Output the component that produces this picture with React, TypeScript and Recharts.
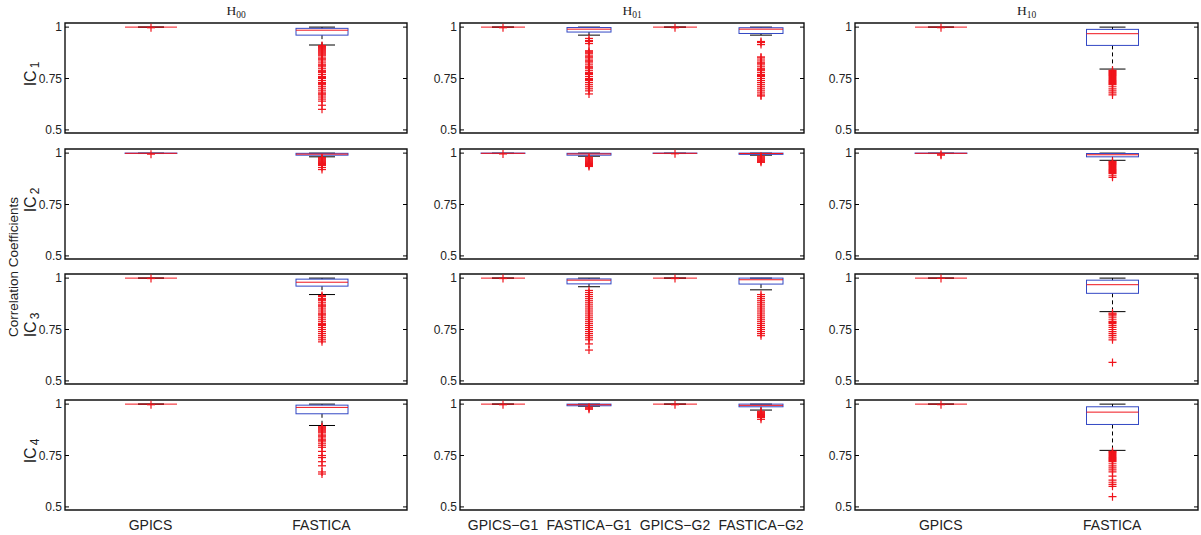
import React from 'react';
import { ComposedChart, Bar, XAxis, YAxis, ReferenceArea } from 'recharts';

type Box = { name: string; lo: number; q1: number; med: number; q3: number; hi: number; out: number[] };

const Y_TICKS = [0.5, 0.75, 1];
const Y_DOMAIN: [number, number] = [0.485, 1.02];
const REF_SPAN = [0.5, 1];

const COL_TITLES = ['00', '01', '10'];
const ROW_LABELS = ['1', '2', '3', '4'];
const Y_TITLE = 'Correlation Coefficients';

// ---------- IC1 ----------
const H00_IC1: Box[] = [
  { name: 'GPICS', lo: 1, q1: 1, med: 1, q3: 1, hi: 1, out: [0.997] },
  { name: 'FASTICA', lo: 0.913, q1: 0.961, med: 0.985, q3: 0.994, hi: 1, out: [0.91, 0.905, 0.9, 0.895, 0.89, 0.885, 0.88, 0.875, 0.87, 0.865, 0.86, 0.85, 0.845, 0.84, 0.83, 0.82, 0.815, 0.81, 0.8, 0.79, 0.785, 0.78, 0.77, 0.76, 0.755, 0.75, 0.74, 0.73, 0.725, 0.72, 0.71, 0.7, 0.69, 0.68, 0.675, 0.67, 0.66, 0.65, 0.64, 0.62, 0.6] },
];
const H01_IC1: Box[] = [
  { name: 'GPICS−G1', lo: 1, q1: 1, med: 1, q3: 1, hi: 1, out: [0.997] },
  { name: 'FASTICA−G1', lo: 0.961, q1: 0.976, med: 0.99, q3: 0.998, hi: 1, out: [0.945, 0.935, 0.93, 0.92, 0.885, 0.88, 0.875, 0.87, 0.86, 0.855, 0.85, 0.84, 0.835, 0.83, 0.82, 0.81, 0.805, 0.8, 0.79, 0.78, 0.775, 0.77, 0.76, 0.75, 0.745, 0.74, 0.73, 0.72, 0.71, 0.7, 0.69, 0.675] },
  { name: 'GPICS−G2', lo: 1, q1: 1, med: 1, q3: 1, hi: 1, out: [0.997] },
  { name: 'FASTICA−G2', lo: 0.961, q1: 0.969, med: 0.99, q3: 0.997, hi: 1, out: [0.93, 0.925, 0.915, 0.855, 0.85, 0.84, 0.83, 0.825, 0.82, 0.81, 0.8, 0.795, 0.79, 0.78, 0.77, 0.765, 0.76, 0.75, 0.74, 0.73, 0.72, 0.71, 0.7, 0.69, 0.68, 0.67, 0.665] },
];
const H10_IC1: Box[] = [
  { name: 'GPICS', lo: 1, q1: 1, med: 1, q3: 1, hi: 1, out: [0.997] },
  { name: 'FASTICA', lo: 0.796, q1: 0.911, med: 0.968, q3: 0.989, hi: 1, out: [0.79, 0.785, 0.78, 0.775, 0.77, 0.765, 0.76, 0.755, 0.75, 0.745, 0.74, 0.735, 0.73, 0.725, 0.72, 0.71, 0.7, 0.69, 0.68, 0.67] },
];

// ---------- IC2 ----------
const H00_IC2: Box[] = [
  { name: 'GPICS', lo: 0.998, q1: 0.999, med: 0.999, q3: 1, hi: 1, out: [0.995] },
  { name: 'FASTICA', lo: 0.982, q1: 0.99, med: 0.995, q3: 0.999, hi: 1, out: [0.978, 0.975, 0.97, 0.965, 0.96, 0.955, 0.95, 0.945, 0.94, 0.93, 0.92] },
];
const H01_IC2: Box[] = [
  { name: 'GPICS−G1', lo: 0.998, q1: 0.999, med: 0.999, q3: 1, hi: 1, out: [0.996] },
  { name: 'FASTICA−G1', lo: 0.985, q1: 0.99, med: 0.996, q3: 0.999, hi: 1, out: [0.98, 0.975, 0.97, 0.965, 0.96, 0.955, 0.95, 0.945, 0.94, 0.935] },
  { name: 'GPICS−G2', lo: 0.998, q1: 0.999, med: 0.999, q3: 1, hi: 1, out: [0.997] },
  { name: 'FASTICA−G2', lo: 0.99, q1: 0.994, med: 0.998, q3: 1, hi: 1, out: [0.985, 0.98, 0.975, 0.97, 0.965, 0.96, 0.955] },
];
const H10_IC2: Box[] = [
  { name: 'GPICS', lo: 0.998, q1: 0.999, med: 0.999, q3: 1, hi: 1, out: [0.995, 0.99] },
  { name: 'FASTICA', lo: 0.965, q1: 0.982, med: 0.992, q3: 0.998, hi: 1, out: [0.96, 0.955, 0.95, 0.945, 0.94, 0.935, 0.93, 0.925, 0.92, 0.915, 0.91, 0.905, 0.9, 0.89, 0.882] },
];

// ---------- IC3 ----------
const H00_IC3: Box[] = [
  { name: 'GPICS', lo: 1, q1: 1, med: 1, q3: 1, hi: 1, out: [0.998] },
  { name: 'FASTICA', lo: 0.92, q1: 0.961, med: 0.98, q3: 0.995, hi: 1, out: [0.915, 0.91, 0.9, 0.895, 0.89, 0.88, 0.87, 0.865, 0.86, 0.85, 0.84, 0.83, 0.825, 0.82, 0.81, 0.8, 0.79, 0.78, 0.775, 0.77, 0.76, 0.75, 0.74, 0.73, 0.72, 0.71, 0.7, 0.69] },
];
const H01_IC3: Box[] = [
  { name: 'GPICS−G1', lo: 1, q1: 1, med: 1, q3: 1, hi: 1, out: [0.998] },
  { name: 'FASTICA−G1', lo: 0.958, q1: 0.972, med: 0.99, q3: 0.996, hi: 1, out: [0.94, 0.93, 0.92, 0.91, 0.9, 0.89, 0.88, 0.87, 0.86, 0.85, 0.84, 0.83, 0.82, 0.81, 0.8, 0.79, 0.78, 0.77, 0.76, 0.75, 0.74, 0.73, 0.72, 0.71, 0.7, 0.68, 0.65] },
  { name: 'GPICS−G2', lo: 1, q1: 1, med: 1, q3: 1, hi: 1, out: [0.998] },
  { name: 'FASTICA−G2', lo: 0.943, q1: 0.971, med: 0.992, q3: 1, hi: 1, out: [0.92, 0.91, 0.9, 0.89, 0.88, 0.87, 0.86, 0.85, 0.84, 0.83, 0.82, 0.81, 0.8, 0.79, 0.78, 0.77, 0.76, 0.75, 0.74, 0.73, 0.72] },
];
const H10_IC3: Box[] = [
  { name: 'GPICS', lo: 1, q1: 1, med: 1, q3: 1, hi: 1, out: [0.998] },
  { name: 'FASTICA', lo: 0.837, q1: 0.926, med: 0.968, q3: 0.99, hi: 1, out: [0.83, 0.825, 0.82, 0.81, 0.8, 0.79, 0.785, 0.78, 0.77, 0.76, 0.75, 0.74, 0.73, 0.72, 0.71, 0.7, 0.59] },
];

// ---------- IC4 ----------
const H00_IC4: Box[] = [
  { name: 'GPICS', lo: 1, q1: 1, med: 1, q3: 1, hi: 1, out: [0.997] },
  { name: 'FASTICA', lo: 0.896, q1: 0.953, med: 0.984, q3: 0.995, hi: 1, out: [0.89, 0.885, 0.88, 0.875, 0.87, 0.865, 0.86, 0.85, 0.845, 0.84, 0.83, 0.825, 0.82, 0.81, 0.8, 0.79, 0.77, 0.75, 0.74, 0.72, 0.7, 0.67, 0.66] },
];
const H01_IC4: Box[] = [
  { name: 'GPICS−G1', lo: 1, q1: 1, med: 1, q3: 1, hi: 1, out: [0.997] },
  { name: 'FASTICA−G1', lo: 0.99, q1: 0.992, med: 0.997, q3: 1, hi: 1, out: [0.985, 0.98, 0.975] },
  { name: 'GPICS−G2', lo: 1, q1: 1, med: 1, q3: 1, hi: 1, out: [0.997] },
  { name: 'FASTICA−G2', lo: 0.971, q1: 0.987, med: 0.994, q3: 1, hi: 1, out: [0.965, 0.96, 0.955, 0.95, 0.945, 0.94, 0.935, 0.926] },
];
const H10_IC4: Box[] = [
  { name: 'GPICS', lo: 1, q1: 1, med: 1, q3: 1, hi: 1, out: [0.997] },
  { name: 'FASTICA', lo: 0.775, q1: 0.901, med: 0.961, q3: 0.987, hi: 1, out: [0.77, 0.765, 0.76, 0.755, 0.75, 0.745, 0.74, 0.735, 0.73, 0.725, 0.72, 0.71, 0.7, 0.69, 0.68, 0.67, 0.65, 0.63, 0.62, 0.61, 0.6, 0.55] },
];

const GRID: Box[][][] = [
  [H00_IC1, H01_IC1, H10_IC1],
  [H00_IC2, H01_IC2, H10_IC2],
  [H00_IC3, H01_IC3, H10_IC3],
  [H00_IC4, H01_IC4, H10_IC4],
];

// layout
const COL_LEFT = [65, 460, 855];
const COL_W = [342, 344, 343];
const COL_BOX = [52, 44, 52];
const ROW_TOP = [23, 149, 274, 400];
const PLOT_H = 110;
const YW = 40;
const MT = 2;
const MB = 8;

const BLUE = '#3348c4';
const RED = '#f0141c';
const FONT = '"Liberation Sans", Arial, Helvetica, sans-serif';

const BoxShape = (props: any) => {
  const { x, y, width, height, payload, boxW } = props;
  if (!payload || height == null) return null;
  const b = payload as Box;
  const cx = x + width / 2;
  const py = (v: number) => y + ((REF_SPAN[1] - v) / (REF_SPAN[1] - REF_SPAN[0])) * height;
  const half = boxW / 2;
  const cap = boxW / 4;
  const cs = 4;
  return (
    <g>
      <line x1={cx} x2={cx} y1={py(b.q3)} y2={py(b.hi)} stroke="#000" strokeDasharray="4 3" />
      <line x1={cx} x2={cx} y1={py(b.q1)} y2={py(b.lo)} stroke="#000" strokeDasharray="4 3" />
      <line x1={cx - cap} x2={cx + cap} y1={py(b.hi)} y2={py(b.hi)} stroke="#000" />
      <line x1={cx - cap} x2={cx + cap} y1={py(b.lo)} y2={py(b.lo)} stroke="#000" />
      <rect x={cx - half} y={py(b.q3)} width={boxW} height={Math.max(0, py(b.q1) - py(b.q3))} fill="none" stroke={BLUE} />
      <line x1={cx - half} x2={cx + half} y1={py(b.med)} y2={py(b.med)} stroke={RED} />
      {b.out.map((v, i) => (
        <g key={i} stroke={RED} strokeWidth={1.2}>
          <line x1={cx - cs} x2={cx + cs} y1={py(v)} y2={py(v)} />
          <line x1={cx} x2={cx} y1={py(v) - cs} y2={py(v) + cs} />
        </g>
      ))}
    </g>
  );
};

const YTick = (props: any) => {
  const { y, payload, plotW } = props;
  const lbl = payload.value === 1 ? '1' : String(payload.value);
  return (
    <g>
      <text x={YW - 3} y={y} textAnchor="end" dominantBaseline="central" fontSize={12} fontFamily={FONT} fill="#222">
        {lbl}
      </text>
      <line x1={YW} x2={YW + 4} y1={y} y2={y} stroke="#000" />
      <line x1={YW + plotW - 4} x2={YW + plotW} y1={y} y2={y} stroke="#000" />
    </g>
  );
};

const XTick = (props: any) => {
  const { x, y, payload } = props;
  return (
    <text x={x} y={y + 18} textAnchor="middle" fontSize={14} fontFamily={FONT} fill="#222">
      {payload.value}
    </text>
  );
};

function Panel({ data, left, top, plotW, boxW, showX }: { data: Box[]; left: number; top: number; plotW: number; boxW: number; showX: boolean }) {
  const xh = showX ? 26 : 0;
  const mb = showX ? 0 : MB;
  return (
    <div style={{ position: 'absolute', left: left - YW, top: top - MT }}>
      <ComposedChart width={YW + plotW + 3} height={PLOT_H + MT + mb + xh} data={data} margin={{ top: MT, right: 3, bottom: mb, left: 0 }}>
        <XAxis dataKey="name" hide={!showX} height={xh} axisLine={false} tickLine={false} tickSize={0} interval={0} tick={<XTick />} />
        <YAxis width={YW} domain={Y_DOMAIN} ticks={Y_TICKS} allowDataOverflow axisLine={false} tickLine={false} tickSize={0} interval={0} tick={(p: any) => <YTick {...p} plotW={plotW} />} />
        <ReferenceArea y1={Y_DOMAIN[0]} y2={Y_DOMAIN[1]} fill="none" fillOpacity={0} stroke="#111" strokeWidth={1.4} ifOverflow="visible" />
        <Bar dataKey={() => REF_SPAN} barSize={boxW} isAnimationActive={false} fill="none" shape={(p: any) => <BoxShape {...p} boxW={boxW} />} />
      </ComposedChart>
    </div>
  );
}

export default function App() {
  return (
    <div style={{ position: 'absolute', left: 0, top: 0, width: 1201, height: 535, background: '#fff', overflow: 'hidden' }}>
      {GRID.map((row, r) =>
        row.map((data, c) => (
          <Panel key={`${r}-${c}`} data={data} left={COL_LEFT[c]} top={ROW_TOP[r]} plotW={COL_W[c]} boxW={COL_BOX[c]} showX={r === GRID.length - 1} />
        ))
      )}
      <svg width={1201} height={535} style={{ position: 'absolute', left: 0, top: 0, pointerEvents: 'none' }}>
        {COL_TITLES.map((t, c) => (
          <text key={t} x={COL_LEFT[c] + COL_W[c] / 2} y={15} textAnchor="middle" fontFamily='"Liberation Serif", "Times New Roman", serif' fontSize={13.5} fill="#222">
            H<tspan fontSize={9.5} dy={3}>{t}</tspan>
          </text>
        ))}
        {ROW_LABELS.map((l, r) => {
          const cy = ROW_TOP[r] + PLOT_H / 2 - 4;
          return (
            <text key={l} x={36} y={cy} transform={`rotate(-90 36 ${cy})`} textAnchor="middle" fontFamily={FONT} fontSize={16} fill="#222">
              IC<tspan fontSize={12} dy={3} dx={2}>{l}</tspan>
            </text>
          );
        })}
        <text x={18} y={267} transform="rotate(-90 18 267)" textAnchor="middle" fontFamily={FONT} fontSize={13.5} fill="#222">
          {Y_TITLE}
        </text>
      </svg>
    </div>
  );
}
